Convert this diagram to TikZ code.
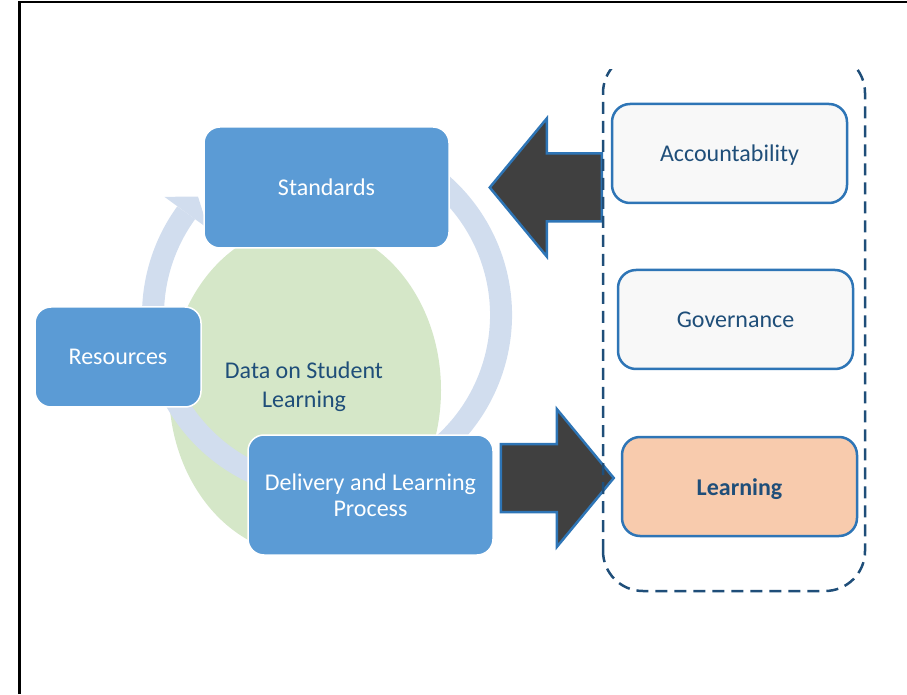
\documentclass[tikz,border=0pt]{standalone}
\usepackage{fontspec}
\setmainfont{Carlito}
\usetikzlibrary{calc}
\definecolor{boxblue}{RGB}{91,155,213}
\definecolor{edgeblue}{RGB}{46,117,182}
\definecolor{navy}{RGB}{31,78,121}
\definecolor{ringblue}{RGB}{209,221,238}
\definecolor{leafgreen}{RGB}{213,231,200}
\definecolor{peach}{RGB}{248,203,173}
\definecolor{paper}{RGB}{248,248,248}
\definecolor{darkgrey}{RGB}{64,64,64}
\tikzset{
  cycbox/.style={draw=white,line width=1.5pt,fill=boxblue,rounded corners=16pt,text=white,align=center,inner sep=0pt,font=\fontsize{24}{26}\selectfont},
  sidebox/.style={draw=edgeblue,line width=2.5pt,fill=paper,rounded corners=18pt,text=navy,minimum width=235pt,minimum height=99pt,text height=20pt,text depth=3pt,font=\fontsize{24}{26}\selectfont},
  hilite/.style={fill=peach,font=\fontsize{24}{26}\selectfont\bfseries},
  ring/.style={draw=ringblue,line width=22pt},
  fatarrow/.style={draw=edgeblue,line width=2.5pt,fill=darkgrey,line join=miter},
  dashbox/.style={draw=navy,line width=2.5pt,dash pattern=on 12pt off 7pt,rounded corners=40pt},
}
\newcommand{\cycbox}[6]{\node[cycbox,minimum width=#4pt,minimum height=#5pt] (#1) at (#2,#3) {#6};}
\newcommand{\sidebox}[4]{\node[sidebox,#4] (#1) at (#2,#3) {#1};}
\newcommand{\fatarrow}[3]{\draw[fatarrow] ($(#1)+(0,34)$) -- ($(#2)+(#3,34)$) -- ($(#2)+(#3,69)$) -- (#2) -- ($(#2)+(#3,-69)$) -- ($(#2)+(#3,-34)$) -- ($(#1)+(0,-34)$) -- cycle;}

\begin{document}
\begin{tikzpicture}[x=1pt,y=1pt]
    \useasboundingbox (0,0) rectangle (907,694);
    \draw[line width=2.5pt] (19.5,0) -- (19.5,692) -- (907,692);
    \fill[leafgreen] (305,304) ellipse [x radius=136, y radius=165];
    \coordinate (hub) at (327,379);
    \draw[ring] ($(hub)+(70:174)$) arc[start angle=70,end angle=-216,radius=174];
    \fill[ringblue] ($(hub)+(144:147)$) -- ($(hub)+(144:201)$) -- ($(hub)+(144:174)+(54:20)$) -- cycle;
    \node[text=navy,align=center,font=\fontsize{24}{29}\selectfont] (Data) at (304,307) {Data on Student\\Learning};

    \cycbox{Standards}{326.5}{506.5}{245}{121}{Standards}
    \cycbox{Resources}{118}{337}{166}{100}{Resources}
    \cycbox{Delivery}{370.5}{199}{245}{120}{Delivery and Learning\\Process}

    \sidebox{Accountability}{729.5}{540.5}{}
    \sidebox{Governance}{735.5}{374.5}{}
    \sidebox{Learning}{739.5}{207.5}{hilite}

    \coordinate (stdTip) at ($(Standards.east)+(40,0)$);
    \coordinate (accTail) at ($(Accountability.west |- stdTip)+(-9,0)$);
    \coordinate (delTail) at ($(Delivery.east)+(7,17)$);
    \coordinate (lrnTip) at ($(Learning.west)+(-7,8.5)$);
    \fatarrow{accTail}{stdTip}{57}
    \fatarrow{delTail}{lrnTip}{-57}

    \begin{scope}
    \clip (590,0) rectangle (880,624);
    \draw[dashbox] (603,103) rectangle (865,641);
    \end{scope}
\end{tikzpicture}
\end{document}
